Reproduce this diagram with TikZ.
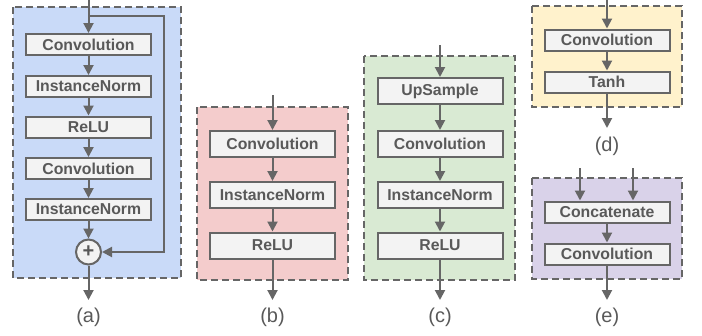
\documentclass[tikz,border=0pt]{standalone}
\usepackage{fontspec}
\setmainfont{Liberation Sans}
\usetikzlibrary{arrows.meta}
\definecolor{linegray}{HTML}{666666}
\definecolor{textgray}{HTML}{595959}
\definecolor{boxgray}{HTML}{F3F3F3}
\definecolor{blueblock}{HTML}{C9DAF8}
\definecolor{redblock}{HTML}{F4CCCC}
\definecolor{greenblock}{HTML}{D9EAD3}
\definecolor{yellowblock}{HTML}{FFF2CC}
\definecolor{purpleblock}{HTML}{D9D2E9}
\begin{document}
\begin{tikzpicture}[x=1pt,y=-1pt,
        layer/.style={draw=linegray,line width=2pt,fill=boxgray,text=textgray,
            font=\bfseries\fontsize{15.8}{17}\selectfont,minimum width=125pt,
            minimum height=21pt,inner sep=0pt},
        tall/.style={layer,minimum height=26pt},
        block/.style={draw=linegray,line width=2pt,dash pattern=on 7pt off 4pt},
        flow/.style={draw=linegray,line width=2pt,-{Triangle[length=10pt,width=10pt]}},
        caption/.style={text=textgray,font=\fontsize{20}{22}\selectfont}]
        \useasboundingbox (0,0) rectangle (702,335);
        % (a) residual block
        \filldraw[block,fill=blueblock] (13,7) rectangle (181,278);
        \node[layer] (a1) at (88.5,44.5) {Convolution};
        \node[layer] (a2) at (88.5,86.5) {InstanceNorm};
        \node[layer] (a3) at (88.5,127) {ReLU};
        \node[layer] (a4) at (88.5,168.5) {Convolution};
        \node[layer] (a5) at (88.5,209.5) {InstanceNorm};
        \node[circle,draw=linegray,line width=2pt,fill=boxgray,minimum size=25pt,
            inner sep=0pt,text=textgray,font=\bfseries\fontsize{20}{20}\selectfont] (aplus) at (88.5,252) {+};
        \coordinate (ain) at (88.5,0);
        \coordinate (asplit) at (88.5,16);
        \coordinate (aout) at (88.5,300);
        \draw[flow] (ain) -- (a1);
        \foreach \s/\t in {a1/a2,a2/a3,a3/a4,a4/a5,a5/aplus,aplus/aout} {
            \draw[flow] (\s) -- (\t);
        }
        \draw[flow] (asplit) -- (164,16) -- (164,252) -- (aplus);
        \node[caption] (alabel) at (88.5,317) {(a)};
        % (b) downsampling block
        \filldraw[block,fill=redblock] (197,107) rectangle (348,280);
        \node[tall] (b1) at (272.5,144) {Convolution};
        \node[tall] (b2) at (272.5,195) {InstanceNorm};
        \node[tall] (b3) at (272.5,245.5) {ReLU};
        \coordinate (bin) at (272.5,95);
        \coordinate (bout) at (272.5,300);
        \foreach \s/\t in {bin/b1,b1/b2,b2/b3,b3/bout} {
            \draw[flow] (\s) -- (\t);
        }
        \node[caption] (blabel) at (272.5,317) {(b)};
        % (c) upsampling block
        \filldraw[block,fill=greenblock] (364,56) rectangle (515,280);
        \node[tall] (c1) at (440,91) {UpSample};
        \node[tall] (c2) at (440,144) {Convolution};
        \node[tall] (c3) at (440,195) {InstanceNorm};
        \node[tall] (c4) at (440,245.5) {ReLU};
        \coordinate (cin) at (440,45);
        \coordinate (cout) at (440,300);
        \foreach \s/\t in {cin/c1,c1/c2,c2/c3,c3/c4,c4/cout} {
            \draw[flow] (\s) -- (\t);
        }
        \node[caption] (clabel) at (440,317) {(c)};
        % (d) output block
        \filldraw[block,fill=yellowblock] (532,6) rectangle (682,107);
        \node[layer] (d1) at (607,40) {Convolution};
        \node[layer] (d2) at (607,82) {Tanh};
        \coordinate (din) at (607,0);
        \coordinate (dout) at (607,128);
        \foreach \s/\t in {din/d1,d1/d2,d2/dout} {
            \draw[flow] (\s) -- (\t);
        }
        \node[caption] (dlabel) at (607,146) {(d)};
        % (e) skip connection block
        \filldraw[block,fill=purpleblock] (532,178) rectangle (682,279);
        \node[layer] (e1) at (607,212) {Concatenate};
        \node[layer] (e2) at (607,254) {Convolution};
        \coordinate (ein1) at (580,168);
        \coordinate (ein2) at (633,168);
        \coordinate (eout) at (607,300);
        \draw[flow] (ein1) -- (ein1 |- e1.north);
        \draw[flow] (ein2) -- (ein2 |- e1.north);
        \foreach \s/\t in {e1/e2,e2/eout} {
            \draw[flow] (\s) -- (\t);
        }
        \node[caption] (elabel) at (607,317) {(e)};
    \end{tikzpicture}
\end{document}
